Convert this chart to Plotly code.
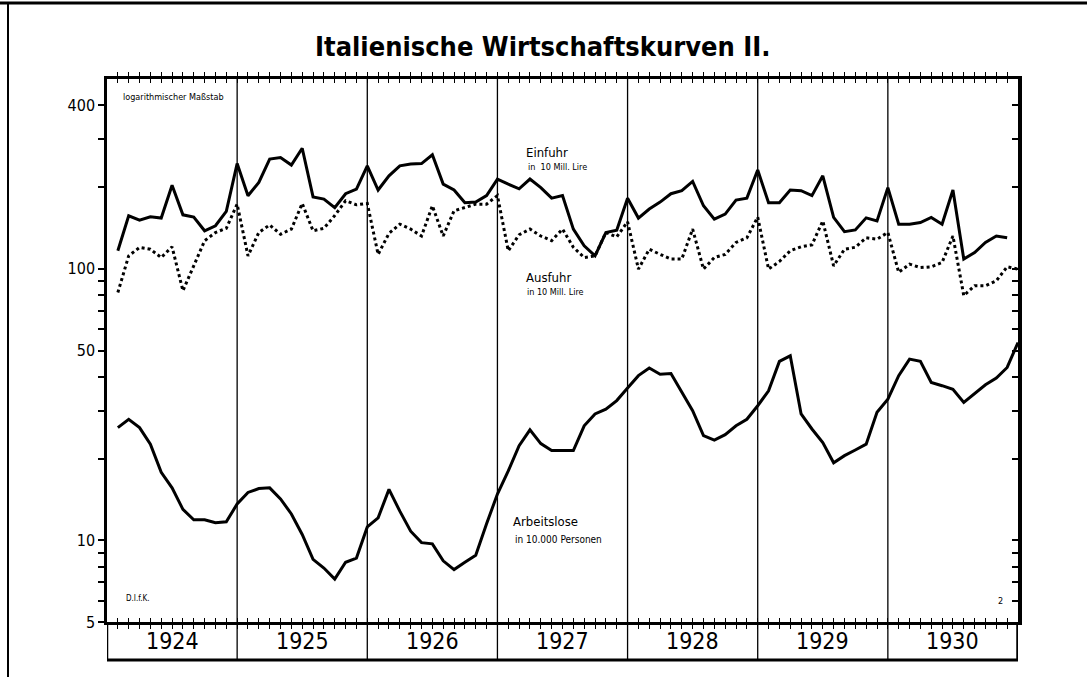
import math
import plotly.graph_objects as go

# ---------------- data (monthly values, Jan 1924 - Dec 1930) ----------------
years = [1924, 1925, 1926, 1927, 1928, 1929, 1930]
year_labels = ["1924", "1925", "1926", "1927", "1928", "1929", "1930"]

# Einfuhr in 10 Mill. Lire (Jan 1924 - Nov 1930)
einfuhr = [
    116.5, 156.7, 151, 155.4, 153.7, 203, 158, 155, 138, 144, 162.6, 244,
    185.7, 208, 253.6, 257, 241, 278, 184, 180.6, 168, 189, 196.6, 239.5,
    195, 220, 239.5, 243, 244, 263, 205, 195, 175, 176, 186, 214,
    205, 197, 214, 199, 182, 186, 140, 121.5, 111.6, 136, 138.8, 182,
    153.7, 166, 176, 189, 194, 209.7, 170.6, 152.4, 159, 179, 182, 231,
    175, 175, 195, 194, 186, 220, 154.6, 137, 139, 154, 150, 199,
    146, 146, 148, 154.6, 146, 195, 108.6, 114.8, 125, 132, 130,
]

# Ausfuhr in 10 Mill. Lire (Jan 1924 - Dec 1930)
ausfuhr = [
    81.8, 111.6, 119.8, 118, 110, 120.5, 83, 102.5, 126.8, 136, 141, 173,
    111.6, 136, 145, 134, 140, 174, 138, 141, 157, 178, 172, 174,
    113, 135, 146, 140, 132, 170.6, 132, 163.5, 168, 173, 173, 186,
    116.5, 133.4, 140, 132, 127, 140, 120, 110, 111.6, 136, 131, 149,
    99.7, 118, 113, 108.6, 108.6, 140, 99.7, 110, 113, 125, 130, 155,
    99.7, 106.4, 116.5, 120.5, 122.5, 150, 102.5, 118, 120, 130, 128.6, 136,
    97, 104, 101, 101.7, 105.5, 132, 79.6, 86.6, 86.6, 90.3, 101.7, 99.7,
]

# Arbeitslose in 10.000 Personen (Jan 1924 - Dec 1930)
arbeitslose = [
    26.0, 27.9, 26.0, 22.6, 17.8, 15.6, 13.0, 11.9, 11.9, 11.6, 11.7, 13.6,
    15.0, 15.5, 15.6, 14.2, 12.5, 10.5, 8.5, 7.9, 7.2, 8.3, 8.6, 11.2,
    12.1, 15.4, 12.8, 10.8, 9.8, 9.7, 8.4, 7.8, 8.3, 8.8, 11.5, 14.8,
    18.0, 22.3, 25.5, 22.7, 21.4, 21.4, 21.4, 26.4, 29.2, 30.4, 32.7, 36.4,
    40.4, 43.1, 40.9, 41.1, 35.0, 30.0, 24.3, 23.4, 24.5, 26.4, 27.9, 31.3,
    35.5, 45.6, 47.8, 29.2, 25.7, 22.9, 19.3, 20.5, 21.5, 22.6, 29.6, 33.1,
    40.4, 46.5, 45.6, 38.1, 37.1, 36.0, 32.2, 34.6, 37.4, 39.6, 43.3, 53.5,
]

y_tickvals = [5, 6, 7, 8, 9, 10, 20, 30, 40, 50, 60, 70, 80, 90, 100, 200, 300, 400]
y_labelled = {5: "5", 10: "10", 50: "50", 100: "100", 400: "400"}

FONT = "DejaVu Sans Condensed, Liberation Sans Narrow, Arial Narrow, DejaVu Sans, sans-serif"


def month_end(n):
    # values are plotted at the end of each month
    return [years[0] + (i + 1) / 12 for i in range(n)]


fig = go.Figure()
fig.add_trace(go.Scatter(x=month_end(len(einfuhr)), y=einfuhr, mode="lines",
                         line=dict(color="black", width=3), name="Einfuhr"))
fig.add_trace(go.Scatter(x=month_end(len(ausfuhr)), y=ausfuhr, mode="lines",
                         line=dict(color="black", width=3, dash="dot"), name="Ausfuhr"))
fig.add_trace(go.Scatter(x=month_end(len(arbeitslose)), y=arbeitslose, mode="lines",
                         line=dict(color="black", width=3), name="Arbeitslose"))
# carrier trace for the right-hand axis
fig.add_trace(go.Scatter(x=[years[0]], y=[100], mode="markers", yaxis="y2",
                         marker=dict(opacity=0), hoverinfo="skip", showlegend=False))

x0, x1 = years[0], years[-1] + 1
yr = [math.log10(5), math.log10(500)]

fig.update_layout(
    width=1087, height=677,
    margin=dict(l=107, r=69, t=79, b=55),
    paper_bgcolor="white", plot_bgcolor="white",
    showlegend=False,
    font=dict(family=FONT, color="black"),
    xaxis=dict(range=[x0, x1], showgrid=False, zeroline=False,
               tickvals=[x0 + k / 12 for k in range(int((x1 - x0) * 12) + 1)],
               ticks="inside", ticklen=4, tickwidth=1, tickcolor="black",
               showticklabels=False, showline=True, linewidth=3,
               linecolor="black", mirror="allticks"),
    yaxis=dict(type="log", range=yr, showgrid=False, zeroline=False,
               tickvals=y_tickvals,
               ticktext=[y_labelled.get(v, "") for v in y_tickvals],
               ticks="outside", ticklen=6, tickwidth=1.5, tickcolor="black",
               tickfont=dict(size=16, family=FONT),
               showline=True, linewidth=2.5, linecolor="black"),
    yaxis2=dict(type="log", range=yr, overlaying="y", side="right",
                showgrid=False, zeroline=False, tickvals=y_tickvals,
                ticks="inside", ticklen=6, tickwidth=1.5, tickcolor="black",
                showticklabels=False, showline=True, linewidth=3.5,
                linecolor="black"),
)

band_bottom = -38 / 543
shapes = []
# year dividers
for y in years[1:]:
    shapes.append(dict(type="line", xref="x", yref="paper", x0=y, x1=y,
                       y0=band_bottom, y1=1, line=dict(color="black", width=1.3)))
# year band
shapes.append(dict(type="line", xref="x", yref="paper", x0=x0, x1=x1,
                   y0=band_bottom, y1=band_bottom, line=dict(color="black", width=3)))
shapes.append(dict(type="line", xref="x", yref="paper", x0=x0, x1=x0,
                   y0=band_bottom, y1=0, line=dict(color="black", width=2.5)))
shapes.append(dict(type="line", xref="x", yref="paper", x0=x1, x1=x1,
                   y0=band_bottom, y1=0, line=dict(color="black", width=3.5)))
# outer frame (top and left edges)
shapes.append(dict(type="line", xref="paper", yref="paper",
                   x0=-107 / 911, x1=980 / 911, y0=619 / 543, y1=619 / 543,
                   line=dict(color="black", width=3)))
shapes.append(dict(type="line", xref="paper", yref="paper",
                   x0=-99 / 911, x1=-99 / 911, y0=619 / 543, y1=-55 / 543,
                   line=dict(color="black", width=2)))
fig.update_layout(shapes=shapes)

ann = []
for y, lab in zip(years, year_labels):
    ann.append(dict(x=y + 0.5, y=band_bottom / 2, xref="x", yref="paper",
                    text=lab, showarrow=False, yanchor="middle", xanchor="center",
                    font=dict(size=23, family=FONT)))


def pann(px, py, text, size, anchor="center", bold=False):
    t = "<b>%s</b>" % text if bold else text
    ann.append(dict(x=(px - 107) / 911, y=(622 - py) / 543, xref="paper", yref="paper",
                    text=t, showarrow=False, xanchor=anchor, yanchor="middle",
                    font=dict(size=size, family=FONT)))


pann(543, 47, "Italienische Wirtschaftskurven II.", 27, bold=True)
pann(121, 97, "logarithmischer Maßstab", 9, anchor="left")
pann(547, 152, "Einfuhr", 13)
pann(557, 167, "in  10 Mill. Lire", 9)
pann(548, 277, "Ausfuhr", 13)
pann(555, 292, "in 10 Mill. Lire", 9)
pann(545, 521, "Arbeitslose", 13)
pann(558, 539, "in 10.000 Personen", 10)
pann(124, 598, "D.I.f.K.", 8, anchor="left")
pann(1000, 601, "2", 9)
fig.update_layout(annotations=ann)

fig.write_html("out.html", include_plotlyjs=True,
               config={"displayModeBar": False},
               post_script="document.body.style.margin='0';")
